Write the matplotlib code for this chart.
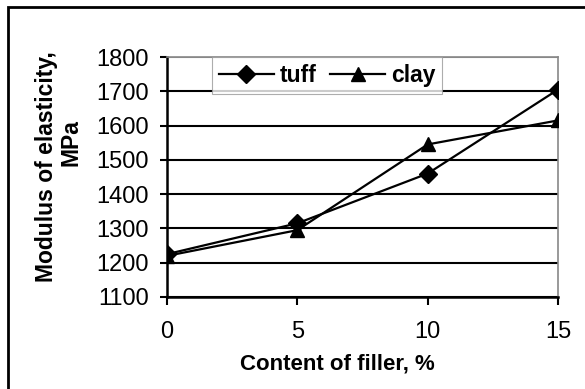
import matplotlib
matplotlib.use("Agg")
import matplotlib.pyplot as plt
from matplotlib.patches import Rectangle

# data
filler = [0, 5, 10, 15]
tuff = [1225, 1315, 1460, 1705]
clay = [1220, 1295, 1545, 1615]
y_ticks = [1100, 1200, 1300, 1400, 1500, 1600, 1700, 1800]
x_ticks = [0, 5, 10, 15]

plt.rcParams['font.family'] = ['Liberation Sans', 'DejaVu Sans']

W, H = 585, 389
fig = plt.figure(figsize=(W / 100, H / 100), dpi=100)
ax = fig.add_axes([167 / W, 1 - 297 / H, (558 - 167) / W, (297 - 57) / H])

# outer frame (only left and top visible in the reference)
fig.patches.append(Rectangle((8 / W, -0.2), 1.5, 1.2 - 7 / H, transform=fig.transFigure,
                             fill=False, edgecolor='black', linewidth=2.0))

ax.plot(filler, tuff, color='black', lw=1.6, marker='D', markersize=9, label='tuff', zorder=3)
ax.plot(filler, clay, color='black', lw=1.6, marker='^', markersize=10.5, label='clay', zorder=3)

ax.set_xlim(0, 15)
ax.set_ylim(1100, 1800)
ax.set_xticks(x_ticks)
ax.set_yticks(y_ticks)
ax.tick_params(axis='y', direction='out', length=5, width=1.5, pad=8, labelsize=17)
ax.tick_params(axis='x', direction='out', length=6, width=1.5, pad=11, labelsize=17)

ax.grid(axis='y', color='black', lw=1.5)
ax.yaxis.get_gridlines()[-1].set_color('#888888')
ax.set_axisbelow(True)

for side in ['left', 'bottom']:
    ax.spines[side].set_linewidth(1.8)
    ax.spines[side].set_color('black')
for side in ['top', 'right']:
    ax.spines[side].set_linewidth(1.2)
    ax.spines[side].set_color('#888888')
ax.spines['bottom'].set_zorder(4)

leg = ax.legend(loc='upper left', bbox_to_anchor=(0.115, 1.0), ncol=2, frameon=True,
                fancybox=False, borderaxespad=0, borderpad=0.3, handlelength=2.4,
                handletextpad=0.25, columnspacing=0.6, prop={'weight': 'bold', 'size': 16.5})
leg.get_frame().set_edgecolor('#999999')
leg.get_frame().set_linewidth(0.8)
leg.set_zorder(5)

fig.text(337 / W, 1 - 364 / H, 'Content of filler, %', fontsize=16, fontweight='bold',
         ha='center', va='center')
fig.text(47 / W, 1 - 167 / H, 'Modulus of elasticity,', fontsize=16.5, fontweight='bold',
         ha='center', va='center', rotation=90)
fig.text(71 / W, 1 - 143 / H, 'MPa', fontsize=16.5, fontweight='bold',
         ha='center', va='center', rotation=90)

fig.savefig('out.png', dpi=100)
